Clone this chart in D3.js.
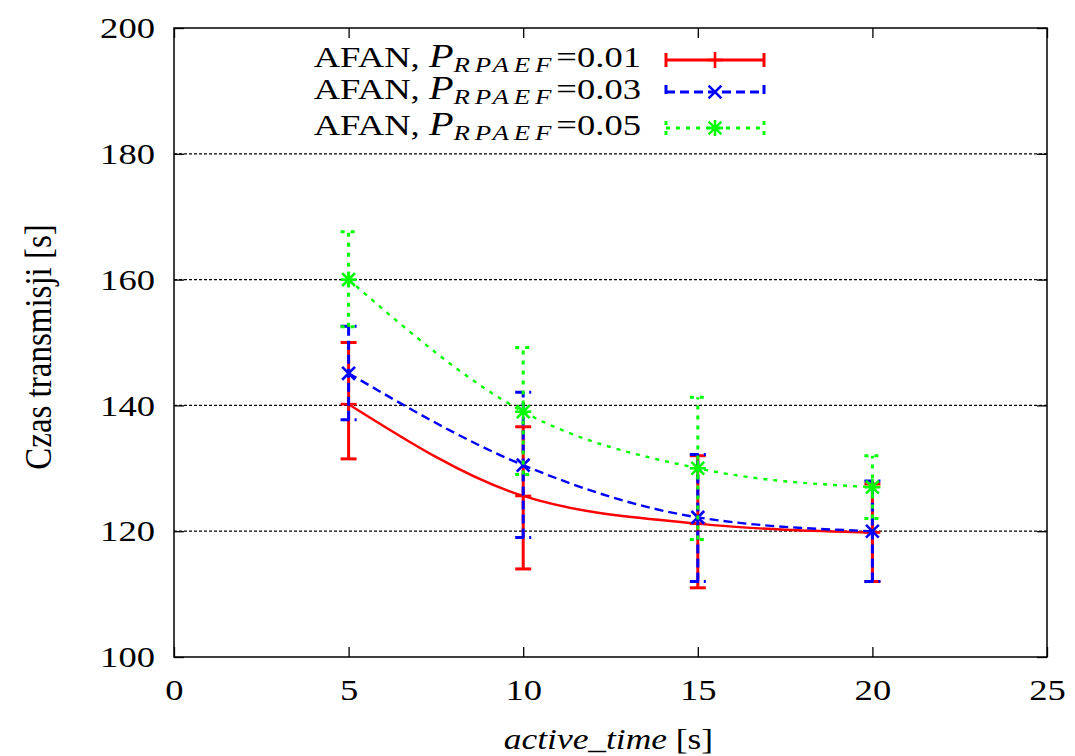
<!DOCTYPE html>
<html><head><meta charset="utf-8">
<script src="https://cdn.jsdelivr.net/npm/d3@7/dist/d3.min.js"></script>
<style>body{margin:0;background:#fff}svg{display:block}
text{font-family:"Liberation Serif","Times New Roman",Times,"DejaVu Serif","Noto Serif",serif}</style>
</head><body><svg id="c" width="1075" height="756"></svg>
<script>
const xs = [5, 10, 15, 20];
const xTicks = [0, 5, 10, 15, 20, 25];
const yTicks = [100, 120, 140, 160, 180, 200];
const seriesNames = ["0.01", "0.03", "0.05"];
const colors = ["#ff0000", "#0000ff", "#00ff00"];
const mean001 = [140.2, 125.6, 121.2, 119.8];
const low001 = [131.5, 114.0, 111.0, 112.0];
const high001 = [150.0, 136.6, 132.0, 127.5];
const mean003 = [145.1, 130.5, 122.2, 120.0];
const low003 = [137.7, 119.0, 112.0, 112.0];
const high003 = [152.6, 142.1, 132.2, 128.0];
const mean005 = [160.0, 139.0, 130.0, 127.0];
const low005 = [152.5, 129.0, 118.7, 122.0];
const high005 = [167.6, 149.2, 141.3, 132.0];

const series = [
  {name: seriesNames[0], mean: mean001, low: low001, high: high001, color: colors[0], dash: null, marker: "plus"},
  {name: seriesNames[1], mean: mean003, low: low003, high: high003, color: colors[1], dash: "9,5", marker: "cross"},
  {name: seriesNames[2], mean: mean005, low: low005, high: high005, color: colors[2], dash: "4,6", marker: "star"}
];

const svg = d3.select("#c");
const L = 174, R = 1047, T = 28, B = 657;
const SX = 1.22; // horizontal stretch of the lettering
const FS = 30;
const x = d3.scaleLinear().domain([0, 25]).range([L, R]);
const y = d3.scaleLinear().domain([100, 200]).range([B, T]);
const font = '"Liberation Serif","Times New Roman",Times,"DejaVu Serif","Noto Serif",serif';

// grid
svg.append("g").selectAll("line").data(yTicks.filter(d => d > 100 && d < 200)).join("line")
  .attr("x1", L).attr("x2", R).attr("y1", d => y(d)).attr("y2", d => y(d))
  .attr("stroke", "#000").attr("stroke-width", 1.2).attr("stroke-dasharray", "3,2");

// axes with inward ticks
const tl = 10;
const padL = 19;
const gL = svg.append("g").attr("transform", `translate(${L},0)`)
  .call(d3.axisLeft(y).tickValues(yTicks).tickSize(-tl).tickPadding(padL));
const gR = svg.append("g").attr("transform", `translate(${R},0)`)
  .call(d3.axisRight(y).tickValues(yTicks).tickSize(-tl).tickFormat(""));
const gB = svg.append("g").attr("transform", `translate(0,${B})`)
  .call(d3.axisBottom(x).tickValues(xTicks).tickSize(-tl).tickPadding(21));
const gT = svg.append("g").attr("transform", `translate(0,${T})`)
  .call(d3.axisTop(x).tickValues(xTicks).tickSize(-tl).tickFormat(""));
[gL, gR, gB, gT].forEach(g => {
  g.attr("font-family", null);
  g.select(".domain").remove();
  g.selectAll(".tick line").attr("stroke", "#000").attr("stroke-width", 1.3);
  g.selectAll("text").style("font-family", font).attr("font-size", FS).attr("fill", "#000");
});
gL.selectAll("text").attr("x", -padL / SX).attr("transform", `scale(${SX},1)`);
gB.selectAll("text").attr("dy", "0.72em").attr("transform", `scale(${SX},1)`);
svg.append("rect").attr("x", L).attr("y", T).attr("width", R - L).attr("height", B - T)
  .attr("fill", "none").attr("stroke", "#000").attr("stroke-width", 1.5);

// axis labels
svg.append("text").attr("transform", `translate(51,347) scale(1.12,1) rotate(-90)`)
  .attr("text-anchor", "middle").style("font-family", font).attr("font-size", 33)
  .text("Czas transmisji [s]");
const xl = svg.append("text").attr("transform", `translate(${(L + R) / 2 - 2},749) scale(1.18,1)`)
  .attr("text-anchor", "middle").style("font-family", font).attr("font-size", FS);
xl.append("tspan").attr("font-style", "italic").text("active_time");
xl.append("tspan").text(" [s]");

function marker(g, type, cx, cy, color) {
  const s = 8;
  const segs = [];
  if (type === "plus" || type === "star") { segs.push([cx - s, cy, cx + s, cy], [cx, cy - s, cx, cy + s]); }
  if (type === "cross" || type === "star") { segs.push([cx - s * 0.8, cy - s * 0.8, cx + s * 0.8, cy + s * 0.8], [cx - s * 0.8, cy + s * 0.8, cx + s * 0.8, cy - s * 0.8]); }
  segs.forEach(p => g.append("line").attr("x1", p[0]).attr("y1", p[1]).attr("x2", p[2]).attr("y2", p[3])
    .attr("stroke", color).attr("stroke-width", 2.6));
}

const cap = 8;
const line = d3.line().x(d => x(d[0])).y(d => y(d[1])).curve(d3.curveMonotoneX);
series.forEach(s => {
  const g = svg.append("g");
  const pts = xs.map((v, i) => [v, s.mean[i]]);
  g.append("path").attr("d", line(pts)).attr("fill", "none").attr("stroke", s.color)
    .attr("stroke-width", 2.4).attr("stroke-dasharray", s.dash);
  xs.forEach((v, i) => {
    const cx = x(v);
    g.append("line").attr("x1", cx).attr("x2", cx).attr("y1", y(s.low[i])).attr("y2", y(s.high[i]))
      .attr("stroke", s.color).attr("stroke-width", 3).attr("stroke-dasharray", s.dash);
    [s.low[i], s.high[i]].forEach(e => g.append("line").attr("x1", cx - cap).attr("x2", cx + cap)
      .attr("y1", y(e)).attr("y2", y(e)).attr("stroke", s.color).attr("stroke-width", 3)
      .attr("stroke-dasharray", s.dash));
    marker(g, s.marker, cx, y(s.mean[i]), s.color);
  });
});

// legend
const rows = [60, 92, 128];
series.forEach((s, i) => {
  const ly = rows[i];
  const t = svg.append("text").attr("transform", `translate(641,${ly + 7}) scale(${SX},1)`)
    .attr("text-anchor", "end").style("font-family", font).attr("font-size", FS);
  t.append("tspan").text("AFAN, ");
  t.append("tspan").attr("font-style", "italic").attr("font-size", 33).text("P");
  t.append("tspan").attr("font-style", "italic").attr("font-size", 22).attr("dy", 5).attr("letter-spacing", 4).text("RPAEF");
  t.append("tspan").attr("dy", -5).text("=0." + s.name.slice(2));
  const g = svg.append("g");
  g.append("line").attr("x1", 666).attr("x2", 764).attr("y1", ly).attr("y2", ly)
    .attr("stroke", s.color).attr("stroke-width", 3).attr("stroke-dasharray", s.dash);
  [666, 764].forEach(px => g.append("line").attr("x1", px).attr("x2", px).attr("y1", ly - 7).attr("y2", ly + 7)
    .attr("stroke", s.color).attr("stroke-width", 3).attr("stroke-dasharray", s.dash));
  marker(g, s.marker, 715, ly, s.color);
});
</script></body></html>
